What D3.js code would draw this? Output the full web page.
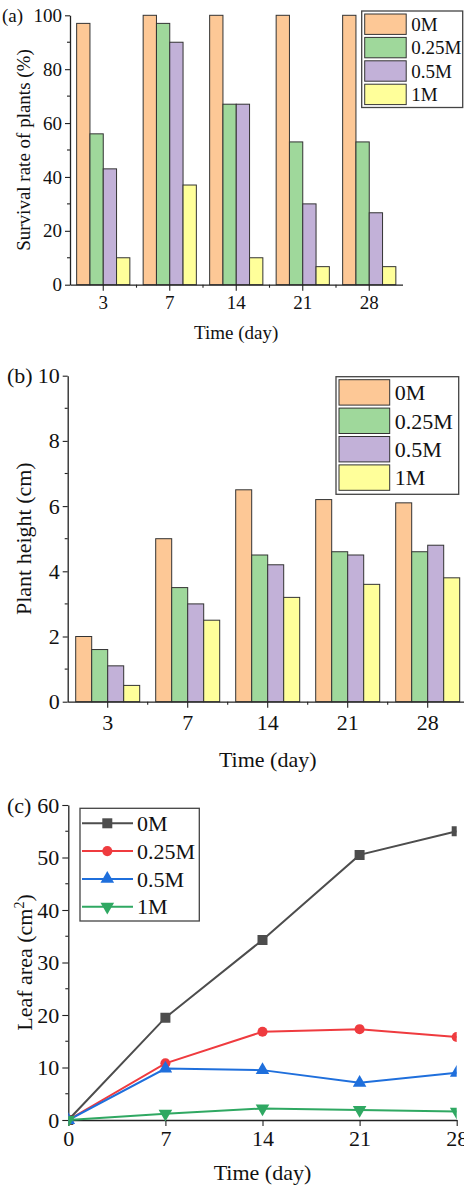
<!DOCTYPE html>
<html>
<head>
<meta charset="utf-8">
<script src="https://cdn.jsdelivr.net/npm/d3@7"></script>
<style>
  body { margin: 0; background: #fff; }
  svg text { font-family: "Liberation Serif", "Times New Roman", serif; fill: #111; }
</style>
</head>
<body>
<svg id="fig" width="464" height="1185"></svg>
<script>
// series shared by all three panels
var seriesNames = ["0M", "0.25M", "0.5M", "1M"];
var barColors = ["#fdc896", "#9fd89b", "#c2b1d8", "#ffff9a"];
var lineColors = ["#4d4d4d", "#ef3b3f", "#1f6fdc", "#2fa862"];
var markerTypes = [d3.symbolSquare, d3.symbolCircle, d3.symbolTriangle, d3.symbolTriangle];

// (a) survival rate, one row per series
var dayCats = ["3", "7", "14", "21", "28"];
var survivalVals = [
  [97, 100, 100, 100, 100],
  [56, 97, 67, 53, 53],
  [43, 90, 67, 30, 26.7],
  [10, 37, 10, 6.7, 6.7]
];
var survivalTicks = [0, 20, 40, 60, 80, 100];

// (b) plant height
var heightVals = [
  [2.0, 5.0, 6.5, 6.2, 6.1],
  [1.6, 3.5, 4.5, 4.6, 4.6],
  [1.1, 3.0, 4.2, 4.5, 4.8],
  [0.5, 2.5, 3.2, 3.6, 3.8]
];
var heightTicks = [0, 2, 4, 6, 8, 10];

// (c) leaf area
var leafDays = [0, 7, 14, 21, 28];
var leafVals = [
  [0, 19.5, 34.3, 50.5, 55.0],
  [0, 10.8, 16.8, 17.3, 15.8],
  [0, 9.8, 9.5, 7.1, 9.0],
  [0, 1.2, 2.2, 1.9, 1.6]
];
var leafTicks = [0, 10, 20, 30, 40, 50, 60];

var svg = d3.select("#fig");

function styleAxis(g, fontSize) {
  g.selectAll(".domain").attr("stroke", "#222").attr("stroke-width", 1.3);
  g.selectAll(".tick line").attr("stroke", "#222").attr("stroke-width", 1.1);
  g.selectAll("text").attr("font-size", fontSize).attr("fill", "#111")
    .style("font-family", '"Liberation Serif", "Times New Roman", serif');
}

function minorY(yScale, x0, vals) {
  svg.append("g").selectAll("line").data(vals).enter().append("line")
    .attr("x1", x0 - 3).attr("x2", x0)
    .attr("y1", function(d) { return yScale(d); })
    .attr("y2", function(d) { return yScale(d); })
    .attr("stroke", "#222").attr("stroke-width", 1.1);
}

function barPanel(p) {
  var x0 = d3.scaleBand().domain(dayCats).range([p.left, p.right]);
  var x1 = d3.scaleBand().domain(seriesNames)
    .range([x0.bandwidth() * 0.1, x0.bandwidth() * 0.9]);
  var y = d3.scaleLinear().domain(p.yDomain).range([p.bottom, p.top]);

  var groups = svg.append("g").selectAll("g").data(dayCats).enter().append("g")
    .attr("transform", function(d) { return "translate(" + x0(d) + ",0)"; });
  groups.selectAll("rect")
    .data(function(d, i) {
      return seriesNames.map(function(s, k) { return { s: s, k: k, v: p.values[k][i] }; });
    })
    .enter().append("rect")
    .attr("x", function(d) { return x1(d.s); })
    .attr("width", x1.bandwidth())
    .attr("y", function(d) { return y(d.v); })
    .attr("height", function(d) { return p.bottom - y(d.v); })
    .attr("fill", function(d) { return barColors[d.k]; })
    .attr("stroke", "#333").attr("stroke-width", 1);

  // x axis, minor ticks sit on the group boundaries
  var gx = svg.append("g").attr("transform", "translate(0," + p.bottom + ")")
    .call(d3.axisBottom(x0).tickSize(6).tickSizeOuter(0).tickPadding(p.xPad));
  styleAxis(gx, p.font);
  var bounds = dayCats.slice(1).map(function(d) { return x0(d); });
  svg.append("g").selectAll("line").data(bounds).enter().append("line")
    .attr("x1", function(d) { return d; }).attr("x2", function(d) { return d; })
    .attr("y1", p.bottom).attr("y2", p.bottom + 3)
    .attr("stroke", "#222").attr("stroke-width", 1.1);

  var gy = svg.append("g").attr("transform", "translate(" + p.left + ",0)")
    .call(d3.axisLeft(y).tickValues(p.yTicks).tickSize(5).tickSizeOuter(0).tickPadding(3));
  styleAxis(gy, p.font);
  minorY(y, p.left, p.yMinor);

  svg.append("text").attr("x", p.tagX).attr("y", p.top).attr("dy", "0.35em")
    .attr("font-size", p.font).text(p.tag);
  svg.append("text").attr("x", (p.left + p.xLabelRight) / 2).attr("y", p.xLabelY)
    .attr("text-anchor", "middle").attr("font-size", p.font).text("Time (day)");
  svg.append("text")
    .attr("transform", "translate(" + p.yLabelX + "," + (p.top + p.bottom) / 2 + ") rotate(-90)")
    .attr("text-anchor", "middle").attr("font-size", p.font).text(p.yLabel);

  // legend
  var lg = p.legend;
  svg.append("rect").attr("x", lg.x).attr("y", lg.y).attr("width", lg.w).attr("height", lg.h)
    .attr("fill", "#fff").attr("stroke", "#444").attr("stroke-width", 1.3);
  seriesNames.forEach(function(s, k) {
    var ry = lg.y + 3 + k * lg.row;
    svg.append("rect").attr("x", lg.x + 3).attr("y", ry).attr("width", lg.sw).attr("height", lg.row - 3)
      .attr("fill", barColors[k]).attr("stroke", "#333").attr("stroke-width", 1);
    svg.append("text").attr("x", lg.x + lg.sw + 8).attr("y", ry + (lg.row - 3) / 2)
      .attr("dy", "0.35em").attr("font-size", p.font).text(s);
  });
}

barPanel({
  tag: "(a)", tagX: 2, values: survivalVals, yDomain: [0, 100], yTicks: survivalTicks,
  yMinor: [10, 30, 50, 70, 90], left: 70, right: 402.5, top: 15.3, bottom: 284.7,
  font: 19, xPad: 5, xLabelY: 339, xLabelRight: 402.5, yLabelX: 30,
  yLabel: "Survival rate of plants (%)",
  legend: { x: 361.7, y: 11, w: 101, h: 96.5, row: 23.4, sw: 41.5 }
});

barPanel({
  tag: "(b)", tagX: 7, values: heightVals, yDomain: [0, 10], yTicks: heightTicks,
  yMinor: [1, 3, 5, 7, 9], left: 67.7, right: 467.7, top: 375.7, bottom: 701.7,
  font: 22, xPad: 7, xLabelY: 767, xLabelRight: 467.7, yLabelX: 31,
  yLabel: "Plant height (cm)",
  legend: { x: 336, y: 376.7, w: 122.7, h: 117.6, row: 28.4, sw: 50.7 }
});

// (c) line chart
var cLeft = 68.3, cRight = 456.7, cTop = 805, cBottom = 1120;
var xc = d3.scaleLinear().domain([0, 28]).range([cLeft, cRight]);
var yc = d3.scaleLinear().domain([0, 60]).range([cBottom, cTop]);

svg.append("clipPath").attr("id", "clipC").append("rect")
  .attr("x", cLeft).attr("y", cTop - 6).attr("width", cRight - cLeft).attr("height", cBottom - cTop + 12);

var gxc = svg.append("g").attr("transform", "translate(0," + cBottom + ")")
  .call(d3.axisBottom(xc).tickValues(leafDays).tickSize(6).tickSizeOuter(0).tickPadding(4));
styleAxis(gxc, 22);
var gyc = svg.append("g").attr("transform", "translate(" + cLeft + ",0)")
  .call(d3.axisLeft(yc).tickValues(leafTicks).tickSize(6).tickSizeOuter(0).tickPadding(3));
styleAxis(gyc, 22);
minorY(yc, cLeft, [5, 15, 25, 35, 45, 55]);

var line = d3.line()
  .x(function(d, i) { return xc(leafDays[i]); })
  .y(function(d) { return yc(d); });

var plotC = svg.append("g").attr("clip-path", "url(#clipC)");
leafVals.forEach(function(vals, k) {
  plotC.append("path").datum(vals).attr("d", line)
    .attr("fill", "none").attr("stroke", lineColors[k]).attr("stroke-width", 2);
  plotC.selectAll(".m" + k).data(vals).enter().append("path")
    .attr("class", "m" + k)
    .attr("d", d3.symbol().type(markerTypes[k]).size(k === 0 ? 100 : 80))
    .attr("transform", function(d, i) {
      return "translate(" + xc(leafDays[i]) + "," + yc(d) + ")" + (k === 3 ? " rotate(180)" : "");
    })
    .attr("fill", lineColors[k]);
});

svg.append("text").attr("x", 7).attr("y", cTop).attr("dy", "0.35em").attr("font-size", 22).text("(c)");
svg.append("text").attr("x", (cLeft + cRight) / 2).attr("y", 1180)
  .attr("text-anchor", "middle").attr("font-size", 22).text("Time (day)");
var yLab = svg.append("text")
  .attr("transform", "translate(32," + (cTop + cBottom) / 2 + ") rotate(-90)")
  .attr("text-anchor", "middle").attr("font-size", 22);
yLab.append("tspan").text("Leaf area (cm");
yLab.append("tspan").attr("font-size", 14).attr("dy", "-0.6em").text("2");
yLab.append("tspan").attr("dy", "0.38em").text(")");

// legend (c)
var lgc = { x: 80, y: 808.3, w: 119.3, h: 112.7, row: 27.8 };
svg.append("rect").attr("x", lgc.x).attr("y", lgc.y).attr("width", lgc.w).attr("height", lgc.h)
  .attr("fill", "#fff").attr("stroke", "#444").attr("stroke-width", 1.3);
seriesNames.forEach(function(s, k) {
  var ry = lgc.y + 15 + k * lgc.row;
  svg.append("line").attr("x1", lgc.x + 2).attr("x2", lgc.x + 53).attr("y1", ry).attr("y2", ry)
    .attr("stroke", lineColors[k]).attr("stroke-width", 2);
  svg.append("path")
    .attr("d", d3.symbol().type(markerTypes[k]).size(k === 0 ? 100 : 80))
    .attr("transform", "translate(" + (lgc.x + 27.3) + "," + ry + ")" + (k === 3 ? " rotate(180)" : ""))
    .attr("fill", lineColors[k]);
  svg.append("text").attr("x", lgc.x + 57).attr("y", ry).attr("dy", "0.35em")
    .attr("font-size", 22).text(s);
});
</script>
</body>
</html>
